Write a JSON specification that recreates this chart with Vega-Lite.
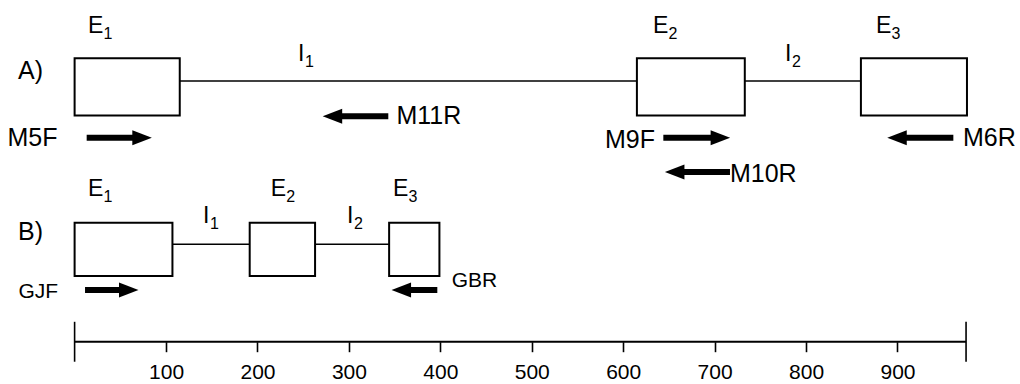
{
  "$schema": "https://vega.github.io/schema/vega-lite/v6.json",
  "width": 1020,
  "height": 384,
  "autosize": {"type": "none"},
  "padding": 0,
  "background": "white",
  "config": {"view": {"stroke": null}, "text": {"font": "Liberation Sans", "color": "black"}},
  "datasets": {
    "exons": [
      {"track": "A", "name": "E1", "pos": 0, "pos2": 115, "u": 69.9, "u2": 84.8},
      {"track": "A", "name": "E2", "pos": 615, "pos2": 733, "u": 69.9, "u2": 84.8},
      {"track": "A", "name": "E3", "pos": 860, "pos2": 976, "u": 69.9, "u2": 84.8},
      {"track": "B", "name": "E1", "pos": 0, "pos2": 107, "u": 28.1, "u2": 42.0},
      {"track": "B", "name": "E2", "pos": 191.5, "pos2": 263, "u": 28.1, "u2": 42.0},
      {"track": "B", "name": "E3", "pos": 344, "pos2": 399, "u": 28.1, "u2": 42.0}
    ],
    "introns": [
      {"track": "A", "pos": 115, "pos2": 860, "u": 78.9},
      {"track": "B", "pos": 107, "pos2": 344, "u": 36.4}
    ],
    "arrows": [
      {"primer": "M5F", "pos": 73.8, "pos2": 13.2, "u": 64.1, "dir": "right"},
      {"primer": "M11R", "pos": 282.0, "pos2": 343.1, "u": 69.7, "dir": "left"},
      {"primer": "M9F", "pos": 706.3, "pos2": 643.9, "u": 64.1, "dir": "right"},
      {"primer": "M10R", "pos": 656.3, "pos2": 716.8, "u": 55.2, "dir": "left"},
      {"primer": "M6R", "pos": 899.5, "pos2": 961.1, "u": 64.1, "dir": "left"},
      {"primer": "GJF", "pos": 59.2, "pos2": 11.4, "u": 24.5, "dir": "right"},
      {"primer": "GBR", "pos": 357.3, "pos2": 396.7, "u": 24.5, "dir": "left"}
    ],
    "bigLabels": [
      {"text": "A)", "pos": -61.9, "u": 81.5},
      {"text": "B)", "pos": -61.9, "u": 39.6},
      {"text": "M5F", "pos": -73.5, "u": 64.1},
      {"text": "M11R", "pos": 352.0, "u": 69.8},
      {"text": "M9F", "pos": 580.0, "u": 63.5},
      {"text": "M10R", "pos": 716.8, "u": 54.7},
      {"text": "M6R", "pos": 971.7, "u": 64.1}
    ],
    "smallLabels": [
      {"text": "GJF", "pos": -61.5, "u": 24.0},
      {"text": "GBR", "pos": 412.4, "u": 26.8}
    ],
    "names": [
      {"letter": "E", "sub": "1", "pos": 14.7, "u": 91.3},
      {"letter": "I", "sub": "1", "pos": 244.3, "u": 84.1},
      {"letter": "E", "sub": "2", "pos": 632.6, "u": 91.3},
      {"letter": "I", "sub": "2", "pos": 777.0, "u": 84.1},
      {"letter": "E", "sub": "3", "pos": 876.5, "u": 91.3},
      {"letter": "E", "sub": "1", "pos": 14.7, "u": 49.0},
      {"letter": "I", "sub": "1", "pos": 140.4, "u": 41.9},
      {"letter": "E", "sub": "2", "pos": 214.5, "u": 49.0},
      {"letter": "I", "sub": "2", "pos": 297.9, "u": 41.9},
      {"letter": "E", "sub": "3", "pos": 348.3, "u": 49.0}
    ],
    "scaleLine": [{"pos": 0, "pos2": 975, "u": 11.0}],
    "scaleEnds": [{"pos": 0, "u": 16.2, "u2": 5.8}, {"pos": 975, "u": 16.2, "u2": 5.8}]
  },
  "encoding": {
    "x": {
      "field": "pos", "type": "quantitative",
      "scale": {"domain": [-81.6, 1034], "nice": false, "zero": false},
      "axis": {
        "orient": "bottom", "offset": -42.3,
        "values": [100, 200, 300, 400, 500, 600, 700, 800, 900],
        "domain": false, "grid": false, "title": null,
        "tickSize": 10, "tickWidth": 1.6, "tickColor": "black",
        "labelColor": "black", "labelFont": "Liberation Sans", "labelFontSize": 21,
        "labelPadding": 10, "labelFlush": false, "labelOverlap": false
      }
    },
    "y": {
      "field": "u", "type": "quantitative",
      "scale": {"domain": [0, 100], "nice": false, "zero": false},
      "axis": null
    }
  },
  "layer": [
    {
      "data": {"name": "introns"},
      "mark": {"type": "rule", "color": "black", "strokeWidth": 1.6},
      "encoding": {"x2": {"field": "pos2"}}
    },
    {
      "data": {"name": "exons"},
      "mark": {"type": "rect", "fill": "white", "stroke": "black", "strokeWidth": 2},
      "encoding": {"x2": {"field": "pos2"}, "y2": {"field": "u2"}}
    },
    {
      "data": {"name": "arrows"},
      "mark": {"type": "rule", "color": "black", "strokeWidth": 6, "strokeCap": "butt"},
      "encoding": {"x2": {"field": "pos2"}}
    },
    {
      "data": {"name": "arrows"},
      "mark": {"type": "point", "filled": true, "color": "black", "opacity": 1, "size": 225, "strokeWidth": 0},
      "encoding": {
        "shape": {
          "field": "dir", "type": "nominal",
          "scale": {"domain": ["right", "left"], "range": ["M-1.3,-1L1.3,0L-1.3,1Z", "M1.3,-1L-1.3,0L1.3,1Z"]},
          "legend": null
        }
      }
    },
    {
      "data": {"name": "bigLabels"},
      "mark": {"type": "text", "align": "left", "baseline": "middle", "fontSize": 25},
      "encoding": {"text": {"field": "text"}}
    },
    {
      "data": {"name": "smallLabels"},
      "mark": {"type": "text", "align": "left", "baseline": "middle", "fontSize": 21},
      "encoding": {"text": {"field": "text"}}
    },
    {
      "data": {"name": "names"},
      "mark": {"type": "text", "align": "left", "baseline": "alphabetic", "fontSize": 23},
      "encoding": {"text": {"field": "letter"}}
    },
    {
      "data": {"name": "names"},
      "transform": [{"filter": "datum.letter === 'E'"}],
      "mark": {"type": "text", "align": "left", "baseline": "alphabetic", "fontSize": 16, "dx": 15.5, "dy": 6},
      "encoding": {"text": {"field": "sub"}}
    },
    {
      "data": {"name": "names"},
      "transform": [{"filter": "datum.letter === 'I'"}],
      "mark": {"type": "text", "align": "left", "baseline": "alphabetic", "fontSize": 16, "dx": 7, "dy": 6},
      "encoding": {"text": {"field": "sub"}}
    },
    {
      "data": {"name": "scaleLine"},
      "mark": {"type": "rule", "color": "black", "strokeWidth": 2},
      "encoding": {"x2": {"field": "pos2"}}
    },
    {
      "data": {"name": "scaleEnds"},
      "mark": {"type": "rule", "color": "black", "strokeWidth": 1.6},
      "encoding": {"y2": {"field": "u2"}}
    }
  ]
}
